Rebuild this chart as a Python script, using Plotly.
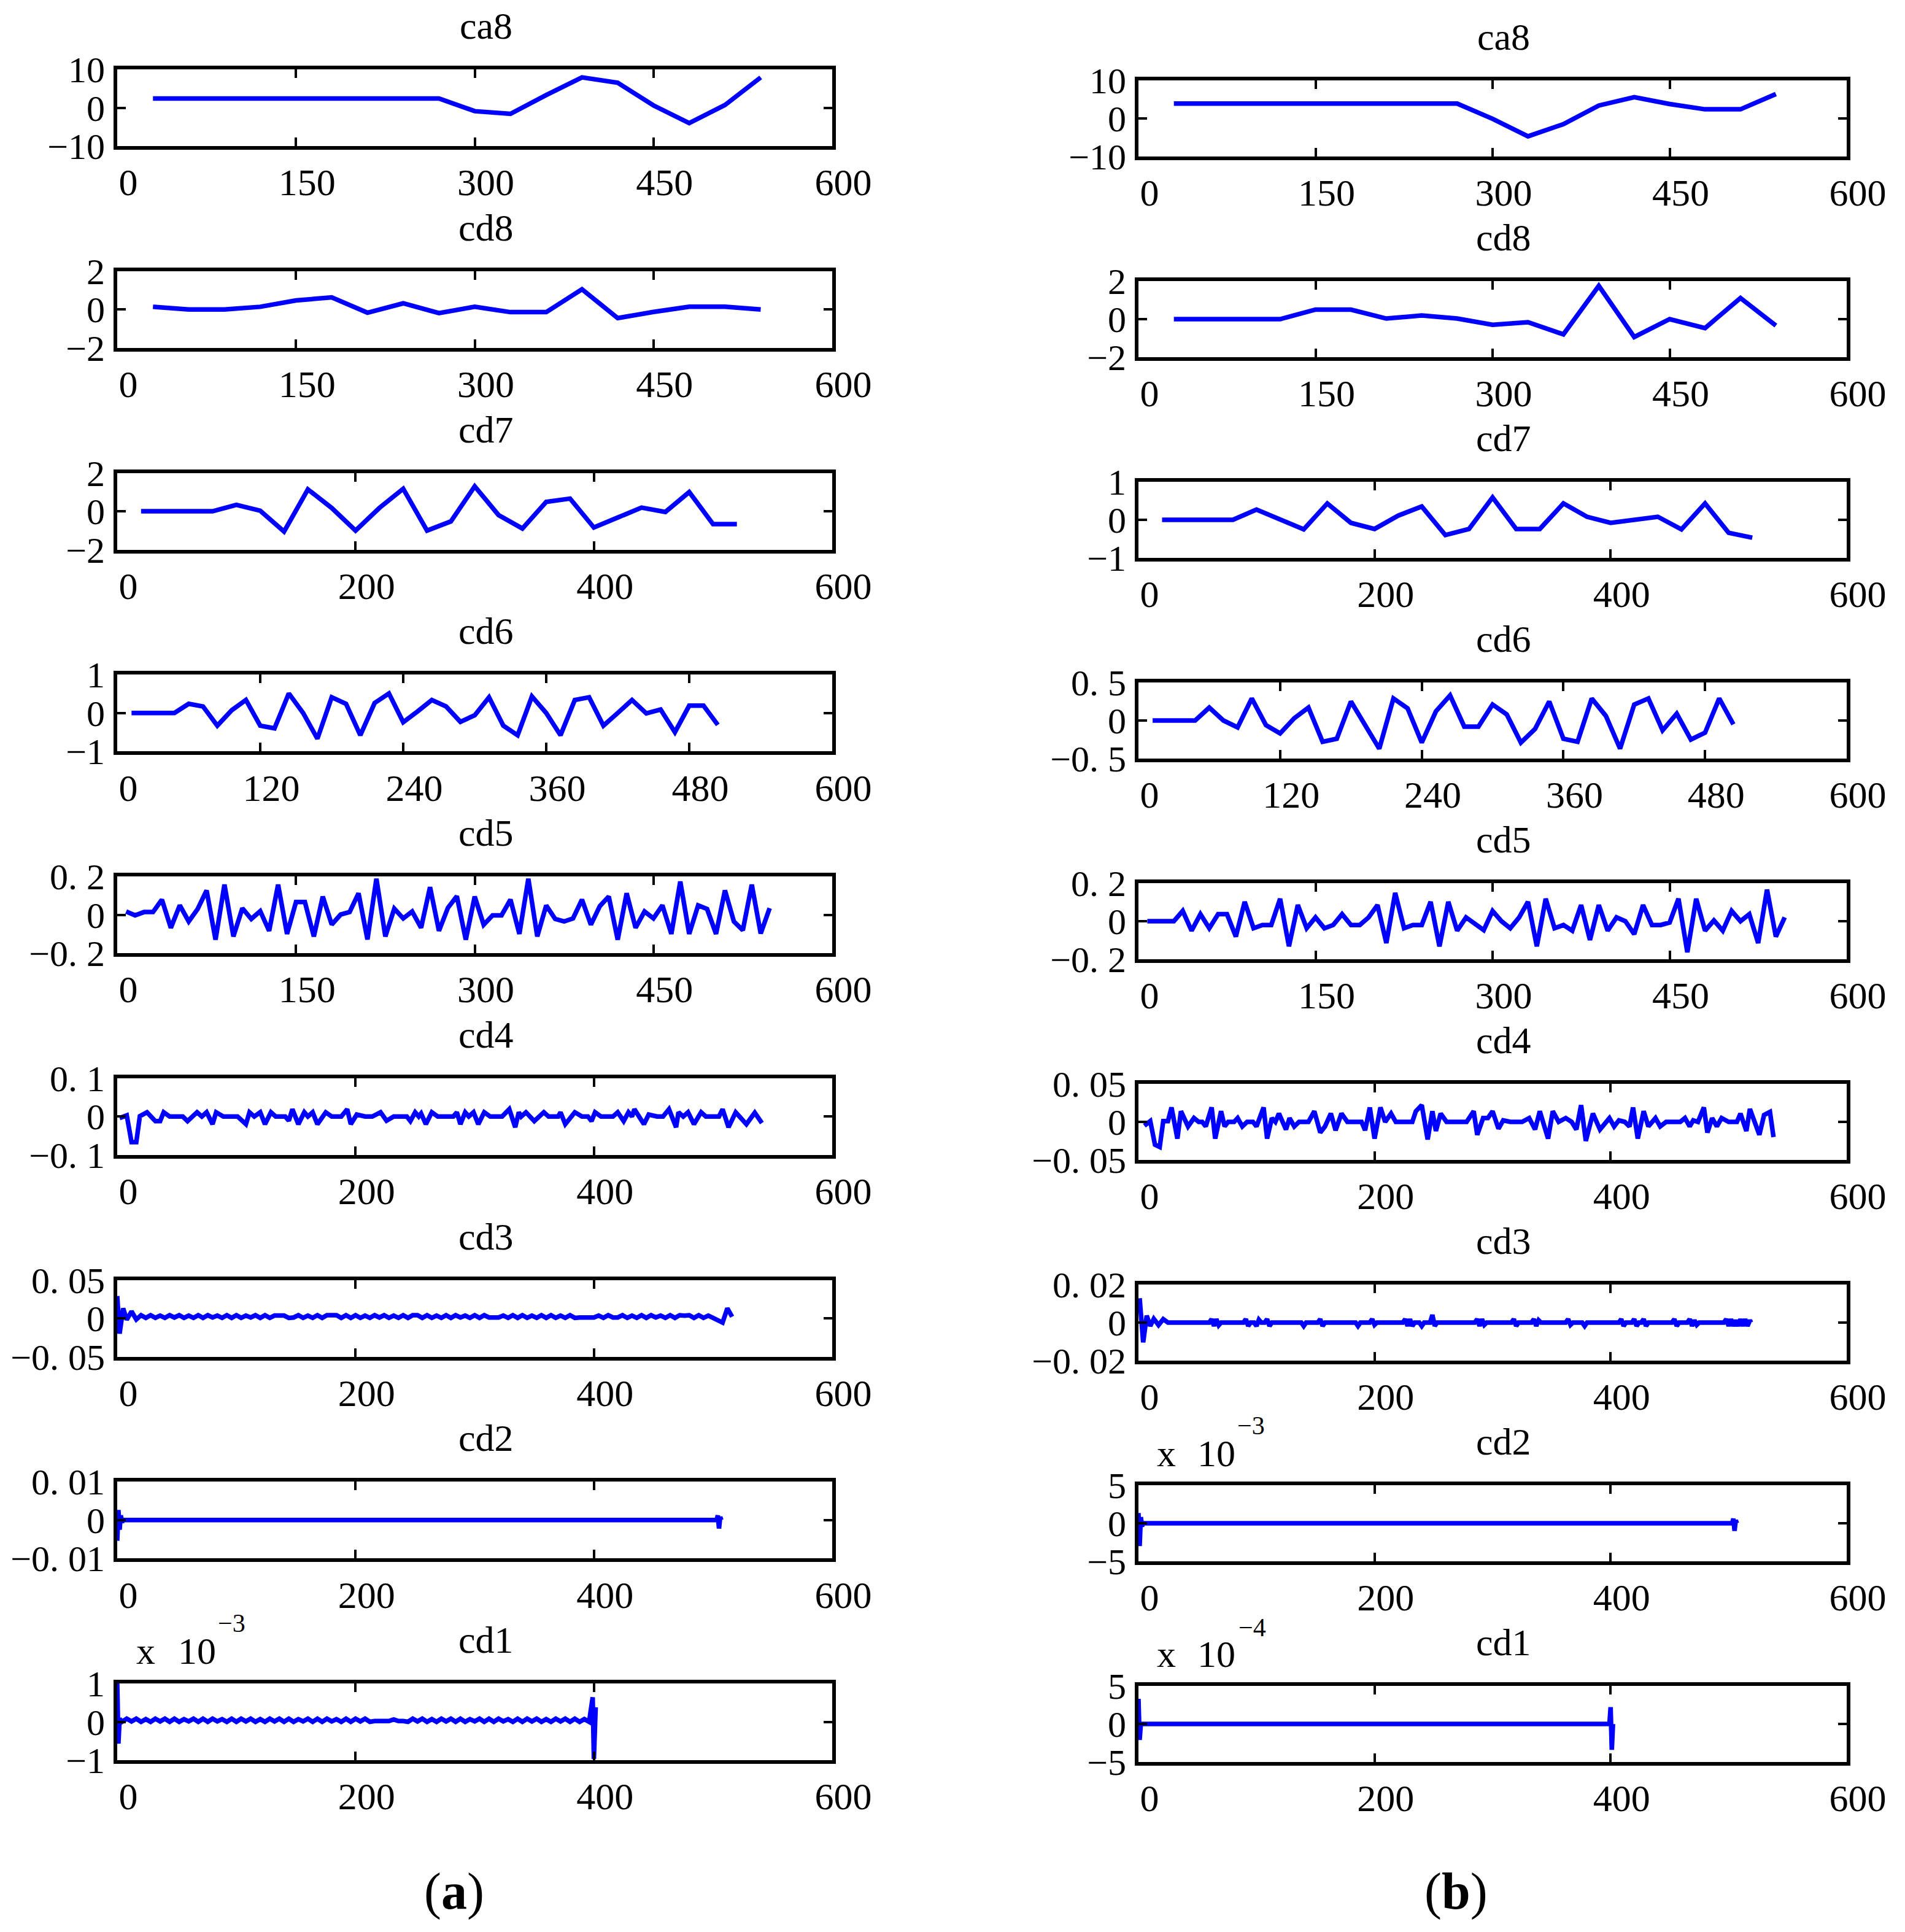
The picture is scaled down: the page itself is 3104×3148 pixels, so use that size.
import numpy as np
import plotly.graph_objects as go

# ---------------- data ----------------
# (a) left column, (b) right column

x_ca8 = list(range(30, 541, 30))
a_ca8 = [2.4, 2.4, 2.4, 2.4, 2.4, 2.4, 2.4, 2.4, 2.4, -0.9, -1.6, 3.3, 7.9, 6.5, 0.6, -4.0, 0.7, 7.9]
b_ca8 = [3.9, 3.9, 3.9, 3.9, 3.9, 3.9, 3.9, 3.9, 3.9, -0.1, -4.7, -1.5, 3.4, 5.6, 3.8, 2.4, 2.4, 6.4]

x_cd8 = list(range(30, 541, 30))
a_cd8 = [0.14, 0.0, 0.0, 0.14, 0.47, 0.63, -0.17, 0.32, -0.19, 0.14, -0.14, -0.14, 1.05, -0.45, -0.13, 0.14, 0.14, 0.0]
b_cd8 = [0.0, 0.0, 0.0, 0.0, 0.5, 0.5, 0.03, 0.19, 0.03, -0.3, -0.16, -0.8, 1.75, -0.94, 0.0, -0.47, 1.11, -0.34]

x_cd7 = list(range(20, 521, 20))
a_cd7 = [0.0, 0.0, 0.0, 0.0, 0.33, 0.03, -1.06, 1.14, 0.17, -1.01, 0.17, 1.17, -1.01,
         -0.53, 1.30, -0.2, -0.9, 0.49, 0.66, -0.85, -0.33, 0.19, -0.04, 1.0, -0.67, -0.67]
b_cd7 = [0.0, 0.0, 0.0, 0.0, 0.27, 0.0, -0.25, 0.43, -0.08, -0.24, 0.11, 0.35, -0.40,
         -0.24, 0.59, -0.24, -0.24, 0.43, 0.08, -0.08, 0.0, 0.08, -0.25, 0.43, -0.34, -0.47]

x_cd6 = list(range(12, 505, 12))
a_cd6 = [0.0, 0.0, 0.0, 0.0, 0.24, 0.17, -0.33, 0.07, 0.34, -0.33, -0.40, 0.51, 0.0, -0.67,
         0.41, 0.24, -0.58, 0.26, 0.51, -0.24, 0.04, 0.34, 0.17, -0.23, -0.06, 0.41, -0.33, -0.58,
         0.43, 0.0, -0.58, 0.34, 0.41, -0.33, 0.0, 0.34, -0.01, 0.09, -0.50, 0.19, 0.19, -0.31]
b_cd6 = [0.0, 0.0, 0.0, 0.0, 0.17, 0.0, -0.09, 0.29, -0.06, -0.17, 0.03, 0.17, -0.28, -0.24,
         0.25, -0.07, -0.37, 0.29, 0.16, -0.29, 0.12, 0.33, -0.08, -0.08, 0.21, 0.08, -0.29, -0.11,
         0.25, -0.24, -0.28, 0.29, 0.06, -0.37, 0.21, 0.29, -0.13, 0.09, -0.25, -0.16, 0.29, -0.05]

x_cd5 = [7.5 * k for k in range(1, 74)]
a_cd5 = [0.017, -0.003, 0.014, 0.014, 0.079, -0.068, 0.049, -0.035, 0.030, 0.127,
         -0.130, 0.157, -0.113, 0.034, -0.022, 0.019, -0.084, 0.157, -0.100, 0.066,
         0.066, -0.113, 0.095, -0.051, 0.001, 0.014, 0.112, -0.129, 0.188, -0.113,
         0.032, -0.019, 0.017, -0.068, 0.144, -0.084, 0.036, 0.097, -0.130, 0.095,
         -0.052, -0.003, -0.003, 0.079, -0.100, 0.188, -0.113, 0.049, -0.022, -0.035,
         -0.019, 0.079, -0.052, 0.045, 0.095, -0.130, 0.112, -0.068, 0.017, -0.019,
         0.049, -0.100, 0.173, -0.100, 0.049, 0.030, -0.100, 0.127, -0.035, -0.081,
         0.157, -0.098, 0.034]
b_cd5 = [0.0, 0.0, 0.0, 0.0, 0.054, -0.050, 0.037, -0.037, 0.037, 0.037,
         -0.081, 0.102, -0.037, -0.020, -0.020, 0.118, -0.132, 0.085, -0.037, 0.020,
         -0.037, -0.020, 0.037, -0.020, -0.020, 0.020, 0.085, -0.115, 0.149, -0.037,
         -0.020, -0.020, 0.102, -0.132, 0.102, -0.050, 0.020, -0.010, -0.047, 0.054,
         0.0, -0.037, 0.020, 0.102, -0.132, 0.118, -0.037, -0.020, -0.050, 0.085,
         -0.099, 0.085, -0.050, 0.020, 0.0, -0.068, 0.085, -0.020, -0.020, -0.007,
         0.118, -0.163, 0.118, -0.050, 0.004, -0.050, 0.054, 0.0, 0.037, -0.115,
         0.166, -0.081, 0.020]

a_cd4_x = [2, 8, 12, 16, 19, 25, 32, 36, 39, 44,
           55, 59, 67, 71, 75, 80, 83, 89, 101, 108,
           111, 115, 120, 124, 129, 133, 141, 144, 147, 152,
           157, 160, 164, 168, 175, 180, 188, 193, 196, 201,
           208, 214, 221, 226, 232, 243, 246, 250, 253, 255,
           259, 264, 269, 282, 285, 288, 292, 295, 299, 303,
           308, 313, 323, 329, 334, 337, 339, 343, 350, 358,
           362, 370, 372, 376, 384, 390, 395, 398, 401, 406,
           416, 420, 425, 429, 432, 434, 442, 446, 453, 458,
           463, 469, 471, 475, 479, 484, 490, 494, 505, 508,
           513, 519, 528, 535, 541]
a_cd4 = [-0.004, 0.003, -0.067, -0.067, 0.001, 0.011, -0.012, -0.012, 0.011, 0.0,
         0.0, -0.012, 0.011, 0.0, 0.011, -0.020, 0.011, 0.0, 0.0, -0.020,
         0.011, 0.0, 0.011, -0.020, 0.011, 0.0, 0.0, -0.011, 0.019, -0.020,
         0.011, 0.0, 0.011, -0.020, 0.011, 0.0, 0.0, 0.019, -0.020, 0.005,
         0.0, 0.0, 0.011, -0.011, 0.0, 0.0, -0.012, 0.011, 0.0, 0.008,
         -0.020, 0.011, 0.0, 0.0, 0.011, -0.020, 0.011, 0.0, 0.011, -0.020,
         0.011, 0.0, 0.0, 0.019, -0.028, 0.011, 0.0, 0.011, -0.012, 0.011,
         0.0, 0.0, 0.011, -0.020, 0.011, 0.0, 0.0, -0.012, 0.011, 0.0,
         0.0, 0.011, -0.012, 0.011, 0.0, 0.019, -0.020, 0.005, 0.0, 0.0,
         0.019, -0.028, 0.011, 0.0, 0.011, -0.020, 0.011, 0.0, 0.0, 0.019,
         -0.028, 0.011, -0.020, 0.010, -0.017]

b_cd4_x = [5, 10, 14, 18, 21, 25, 28, 33, 36, 42,
           47, 51, 54, 57, 62, 65, 70, 73, 76, 81,
           84, 88, 92, 97, 100, 106, 109, 113, 116, 119,
           125, 128, 132, 136, 144, 149, 154, 158, 163, 167,
           172, 177, 189, 192, 196, 200, 205, 209, 214, 218,
           232, 235, 240, 245, 249, 252, 256, 261, 278, 284,
           287, 292, 296, 300, 305, 309, 315, 325, 331, 336,
           340, 347, 351, 356, 362, 367, 371, 375, 379, 385,
           391, 399, 403, 407, 412, 416, 419, 423, 428, 432,
           438, 442, 447, 459, 463, 467, 470, 474, 479, 482,
           486, 490, 494, 500, 507, 510, 515, 518, 526, 530,
           535, 538]
b_cd4 = [-0.005, 0.001, -0.030, -0.033, 0.001, 0.001, 0.019, -0.022, 0.014, -0.006,
         0.005, 0.0, 0.0, -0.006, 0.019, -0.022, 0.014, -0.006, 0.0, 0.0,
         0.005, -0.006, 0.0, 0.0, -0.006, 0.019, -0.022, 0.005, 0.0, 0.011,
         -0.010, 0.005, -0.006, 0.0, 0.0, 0.014, -0.014, -0.006, 0.011, -0.011,
         0.011, 0.0, 0.0, -0.011, 0.019, -0.022, 0.019, 0.0, 0.011, 0.0,
         0.0, 0.014, 0.022, -0.023, 0.014, -0.012, 0.011, 0.0, 0.0, 0.014,
         -0.017, 0.005, 0.005, 0.014, -0.009, 0.002, 0.0, 0.0, 0.005, -0.010,
         0.014, -0.022, 0.014, 0.0, 0.005, 0.0, -0.010, 0.022, -0.025, 0.011,
         -0.010, 0.005, -0.006, 0.002, 0.0, -0.006, 0.019, -0.022, 0.014, -0.006,
         0.005, -0.006, 0.0, 0.0, 0.005, -0.006, 0.002, 0.0, 0.019, -0.014,
         0.005, -0.006, 0.005, 0.0, 0.0, 0.011, -0.012, 0.017, -0.017, 0.009,
         0.013, -0.020]

# cd3 (a): start transient, dense ripple, end transient (values in units of 1e-3)
a_cd3_head_x = [0, 2, 5, 8, 12, 16]
a_cd3_head = [29.0, -20.0, 13.0, -2.0, 9.0, -1.6]
a_cd3_body = [4, 0.5, 4, 0.5, 3.5, 0.5, 4, 1, 4, 0.5,
              3.5, 0.5, 4, 0.5, 4, 1, 3.5, 0.5, 4, 0.5,
              4, 0.5, 3.5, 1, 4, 0.5, 4, 0.5, 3.5, 3.5,
              3.5, 0.5, 1, 4, 0.5, 3.5, 0.5, 4, 0.5, 4,
              3.5, 4, 0.5, 4, 0.5, 4, 0.5, 3.5, 0.5, 4,
              1, 4, 0.5, 3.5, 0.5, 4, 0.5, 4, 4, 0.5,
              4, 0.5, 3.5, 0.5, 4, 0.5, 4, 1, 3.5, 0.5,
              4, 0.5, 4, 1, 1, 1, 3.5, 0.5, 4, 0.5,
              4, 0.5, 3.5, 0.5, 4, 0.5, 4, 0.5, 3.5, 0.5,
              4, 0.5, 1, 1, 1, 1, 3.5, 0.5, 4, 1,
              1, 4, 0.5, 3.5, 0.5, 4, 0.5, 4, 1, 3.5,
              0.5, 4, 0.5, 4, 3.5, 4, 0.5, 4, 0.5, 3.5,
              0.5]
a_cd3_tail_x = [508, 512, 516]
a_cd3_tail = [-5.6, 13.0, 2.0]

# cd3 (b): mostly flat with small blips (units of 1e-3)
b_cd3_x = [1, 4, 7, 10, 13, 17, 21, 25,
           60, 62, 64, 66, 68, 70, 89, 91, 93, 95,
           98, 100, 102, 104, 107, 109, 111, 113,
           138, 140, 142, 152, 154, 156, 158, 184, 186, 188,
           196, 198, 200, 202, 224, 226, 228, 230, 232, 234,
           238, 240, 242, 247, 249, 251, 253,
           285, 287, 289, 291, 293, 295, 316, 318, 320, 322,
           333, 335, 337, 339, 341, 362, 364, 366, 368, 376, 378, 380,
           407, 409, 411, 413, 418, 420, 422, 424, 426, 428, 430, 432,
           452, 454, 456, 458, 465, 467, 469, 471, 473, 475,
           496, 498, 500, 502, 504, 506, 508, 510, 512, 514, 516, 518, 519]
b_cd3 = [12.8, -10.4, 3.6, -1.8, 2.0, -1.3, 1.8, 0,
         0, 1.8, -1.8, 1.8, -1.4, 0, 0, 1.8, -1.8, 0,
         0, -1.8, 1.5, 0, 0, 1.8, -1.8, 0,
         0, -1.8, 0, 0, 1.8, -1.8, 0, 0, -1.8, 0,
         0, 1.8, -1.2, 0, 0, 1.8, -1.8, 1.8, -1.8, 0,
         0, -1.8, 0, 0, 4.0, -1.8, 0,
         0, 1.8, -1.8, 1.8, -1.2, 0, 0, 1.8, -1.8, 0,
         0, 1.8, -1.8, 1.2, 0, 0, 1.8, -1.2, 0, 0, -1.8, 0,
         0, 1.8, -1.8, 0, 0, 1.8, -1.8, 0, 0, 1.8, -1.8, 0,
         0, 1.8, -1.8, 0, 0, 1.8, -1.8, 1.2, -1.2, 0,
         0, 1.8, -1.8, 1.8, -1.8, 1.2, -1.8, 1.8, -1.8, 1.8, -1.8, 1.2, 0]

# cd2 (values in units of 1e-3)
a_cd2_x = [0, 1, 2, 3, 4, 5, 100, 200, 300, 400, 503, 504, 505, 506, 507]
a_cd2 = [-5.4, 2.6, -2.5, 1.2, -0.6, 0, 0, 0, 0, 0, 0, 1.2, -2.2, 0.8, 0]
b_cd2_x = [0, 1, 2, 3, 4, 100, 200, 300, 400, 503, 504, 505, 506, 507]
b_cd2 = [1.35, -3.0, 0.8, -0.4, 0, 0, 0, 0, 0, 0, 0.6, -1.0, 0.4, 0]

# cd1 (values in units of 1e-3)
a_cd1_head_x = [0, 1, 2]
a_cd1_head = [1.0, -0.57, 0.08]
a_cd1_body = [0.0, 0.08, 0.01, 0.08, 0.0, 0.07, 0.0, 0.08, 0.01, 0.08,
              0.0, 0.08, 0.0, 0.07, 0.01, 0.08, 0.0, 0.08, 0.0, 0.08,
              0.01, 0.07, 0.0, 0.08, 0.0, 0.08, 0.01, 0.08, 0.0, 0.07,
              0.0, 0.08, 0.01, 0.08, 0.0, 0.08, 0.0, 0.07, 0.01, 0.08,
              0.0, 0.08, 0.0, 0.08, 0.01, 0.07, 0.0, 0.08, 0.0, 0.08,
              0.01, 0.08, 0.0, 0.02, 0.02, 0.02, 0.02, 0.06, 0.02, 0.02,
              0.0, 0.08, 0.01, 0.08, 0.0, 0.07, 0.0, 0.08, 0.01, 0.08,
              0.0, 0.08, 0.0, 0.07, 0.01, 0.08, 0.0, 0.08, 0.0, 0.08,
              0.01, 0.07, 0.0, 0.08, 0.0, 0.08, 0.01, 0.08, 0.0, 0.07,
              0.0, 0.08, 0.01, 0.08, 0.0, 0.08, 0.0, 0.07, 0.0]
a_cd1_tail_x = [399, 400, 401.5]
a_cd1_tail = [0.64, -0.97, 0.38]
b_cd1_x = [0, 1, 2, 100, 200, 300, 399, 400, 401, 402]
b_cd1 = [0.33, -0.21, 0, 0, 0, 0, 0, 0.22, -0.34, 0]

# ---------------- assemble panels ----------------
def stitch(hx, hy, body, bx0, step, tx, ty):
    bx = [bx0 + step * i for i in range(len(body))]
    return hx + bx + tx, np.array(hy + body + ty) * 1e-3

a_cd3_xx, a_cd3_yy = stitch(a_cd3_head_x, a_cd3_head, a_cd3_body, 20, 4, a_cd3_tail_x, a_cd3_tail)
a_cd1_xx, a_cd1_yy = stitch(a_cd1_head_x, a_cd1_head, a_cd1_body, 4, 4, a_cd1_tail_x, a_cd1_tail)

t150 = [0, 150, 300, 450, 600]
t200 = [0, 200, 400, 600]
t120 = [0, 120, 240, 360, 480, 600]

names = ["ca8", "cd8", "cd7", "cd6", "cd5", "cd4", "cd3", "cd2", "cd1"]
xticks = [t150, t150, t200, t120, t150, t200, t200, t200, t200]

left = [
    (x_ca8, a_ca8, 10, ["−10", "0", "10"]),
    (x_cd8, a_cd8, 2, ["−2", "0", "2"]),
    (x_cd7, a_cd7, 2, ["−2", "0", "2"]),
    (x_cd6, a_cd6, 1, ["−1", "0", "1"]),
    (x_cd5, a_cd5, 0.2, ["−0. 2", "0", "0. 2"]),
    (a_cd4_x, a_cd4, 0.1, ["−0. 1", "0", "0. 1"]),
    (a_cd3_xx, a_cd3_yy, 0.05, ["−0. 05", "0", "0. 05"]),
    (a_cd2_x, np.array(a_cd2) * 1e-3, 0.01, ["−0. 01", "0", "0. 01"]),
    (a_cd1_xx, a_cd1_yy, 0.001, ["−1", "0", "1"]),
]
right = [
    (x_ca8, b_ca8, 10, ["−10", "0", "10"]),
    (x_cd8, b_cd8, 2, ["−2", "0", "2"]),
    (x_cd7, b_cd7, 1, ["−1", "0", "1"]),
    (x_cd6, b_cd6, 0.5, ["−0. 5", "0", "0. 5"]),
    (x_cd5, b_cd5, 0.2, ["−0. 2", "0", "0. 2"]),
    (b_cd4_x, b_cd4, 0.05, ["−0. 05", "0", "0. 05"]),
    (b_cd3_x, np.array(b_cd3) * 1e-3, 0.02, ["−0. 02", "0", "0. 02"]),
    (b_cd2_x, np.array(b_cd2) * 1e-3, 0.005, ["−5", "0", "5"]),
    (b_cd1_x, np.array(b_cd1) * 1e-3, 0.0005, ["−5", "0", "5"]),
]

# page pixels -> paper coords (the html body has an 8 px margin)
OFF = 8
W, H = 3104 - OFF, 3148 - OFF
def px(v):
    return (v - OFF) / W
def py(v):
    return 1 - (v - OFF) / H

FONT = "Liberation Serif"
fig = go.Figure()
layout = {}
annotations = []

cols = [
    dict(panels=left, x0=191, x1=1356, top0=113, pitch=328.75, h=125),
    dict(panels=right, x0=1855, x1=3009, top0=131, pitch=327.0, h=124),
]

n = 0
for c in cols:
    for i, (xs, ys, lim, ytxt) in enumerate(c["panels"]):
        n += 1
        top = c["top0"] + c["pitch"] * i
        bot = top + c["h"]
        xa = "xaxis" if n == 1 else f"xaxis{n}"
        ya = "yaxis" if n == 1 else f"yaxis{n}"
        fig.add_trace(go.Scatter(
            x=xs, y=ys, mode="lines",
            line=dict(color="#0000ff", width=7.5),
            xaxis=f"x{n}" if n > 1 else "x", yaxis=f"y{n}" if n > 1 else "y",
            showlegend=False, hoverinfo="skip",
        ))
        layout[xa] = dict(
            domain=[px(c["x0"]), px(c["x1"])], range=[0, 600],
            anchor=f"y{n}" if n > 1 else "y", automargin=False,
            tickvals=xticks[i], ticktext=[str(v) for v in xticks[i]],
            ticks="inside", ticklen=14, tickwidth=4, tickcolor="black",
            showline=True, linecolor="black", linewidth=6, mirror="allticks",
            showgrid=False, zeroline=False,
            ticklabelshift=18, ticklabelstandoff=0,
            tickfont=dict(family=FONT, size=62, color="black"),
        )
        layout[ya] = dict(
            domain=[py(bot), py(top)], range=[-lim, lim],
            anchor=f"x{n}" if n > 1 else "x", automargin=False,
            tickvals=[-lim, 0, lim], ticktext=ytxt,
            ticks="inside", ticklen=14, tickwidth=4, tickcolor="black",
            showline=True, linecolor="black", linewidth=6, mirror="allticks",
            showgrid=False, zeroline=False,
            ticklabelstandoff=2,
            tickfont=dict(family=FONT, size=60, color="black"),
        )
        # subplot title
        annotations.append(dict(
            text=names[i], xref="paper", yref="paper",
            x=px((c["x0"] + c["x1"]) / 2 + 18), y=py(top - 71),
            xanchor="center", yanchor="middle", showarrow=False,
            font=dict(family=FONT, size=62, color="black"),
        ))

# exponent labels (x 10^-3, x 10^-4): "x", "10" and a raised power
def label(txt, cx, cy, size):
    return dict(text=txt, xref="paper", yref="paper", x=px(cx), y=py(cy),
                xanchor="center", yanchor="middle", showarrow=False,
                font=dict(family=FONT, size=size, color="black"))

for x_x, x_10, x_p, y_mid, y_pow, power in [
    (237, 321, 377, 2690, 2645, "−3"),
    (1900, 1982, 2038, 2368, 2323, "−3"),
    (1900, 1982, 2040, 2695, 2652, "−4"),
]:
    annotations.append(label("x", x_x, y_mid, 62))
    annotations.append(label("10", x_10, y_mid, 62))
    annotations.append(label(power, x_p, y_pow, 42))

for txt, cx in [("(<b>a</b>)", 740), ("(<b>b</b>)", 2372)]:
    annotations.append(label(txt, cx, 3082, 84))

fig.update_layout(
    width=W, height=H, margin=dict(l=0, r=0, t=0, b=0, pad=0),
    paper_bgcolor="white", plot_bgcolor="white",
    annotations=annotations, **layout,
)

fig.write_html("out.html")
